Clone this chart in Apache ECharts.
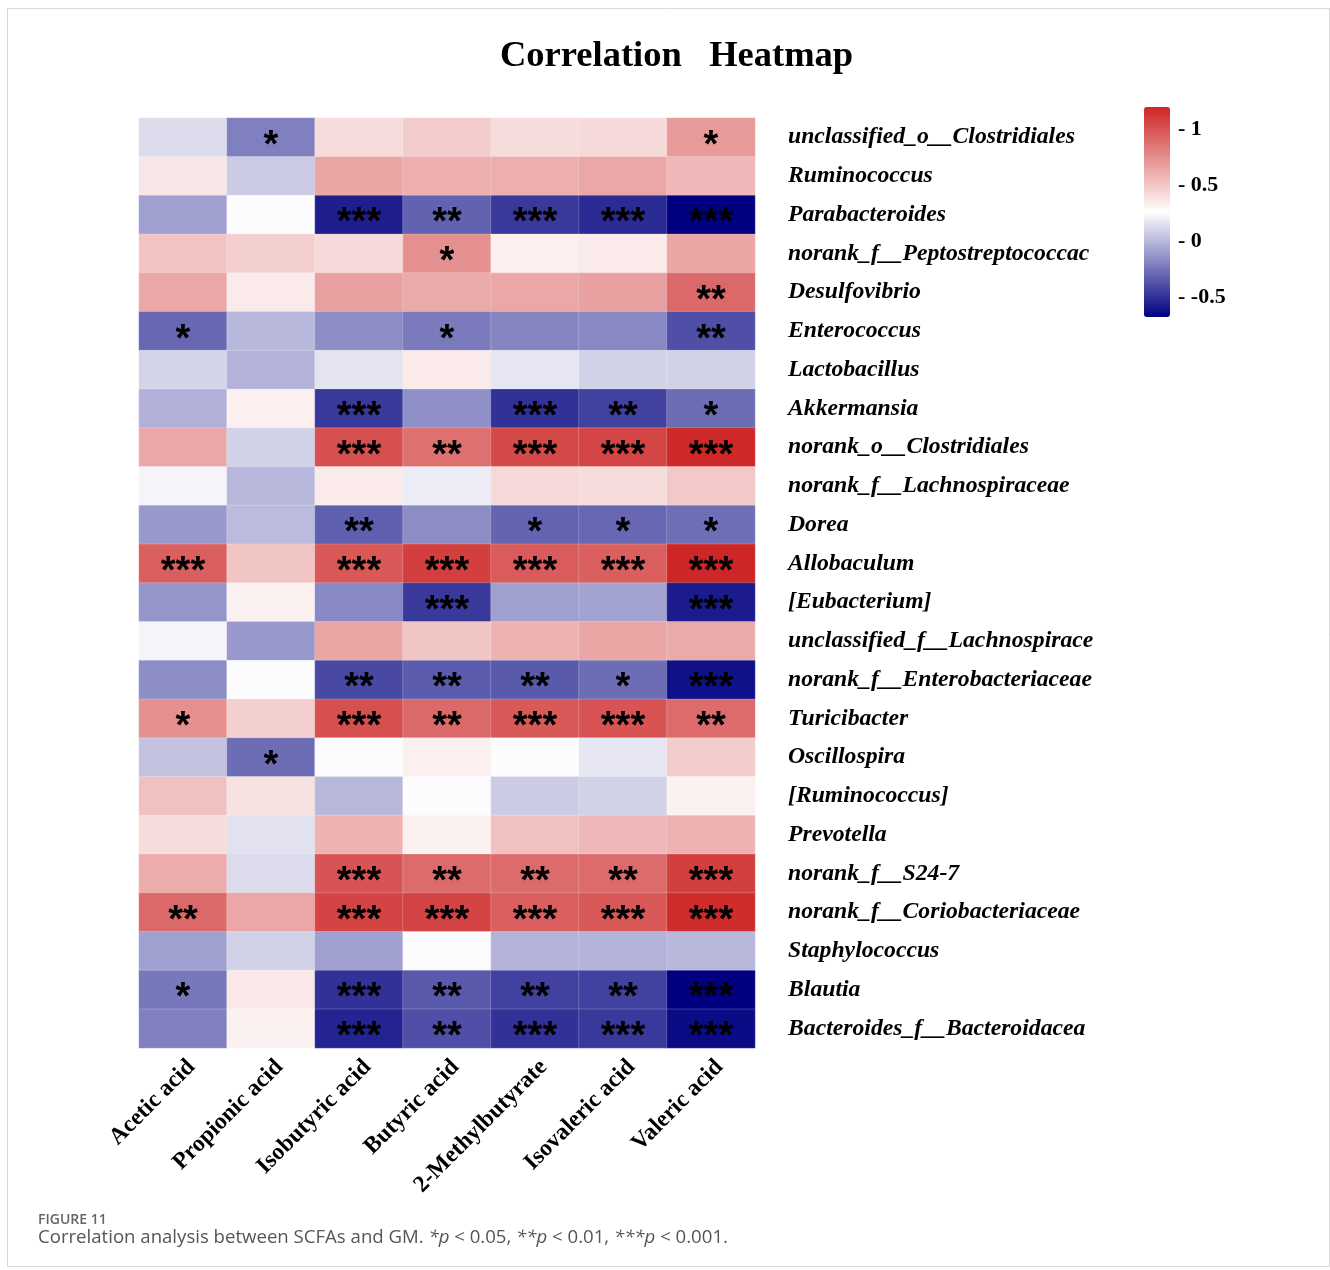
<!DOCTYPE html>
<html>
<head>
<meta charset="utf-8">
<title>Correlation Heatmap</title>
<script src="https://cdn.jsdelivr.net/npm/echarts@6/dist/echarts.min.js"></script>
<style>
  html, body { margin: 0; padding: 0; background: #fff; }
  #chart { width: 1330px; height: 1270px; }
</style>
</head>
<body>
<div id="chart"></div>
<script>
// Short-chain fatty acids (columns)
const acids = ['Acetic acid', 'Propionic acid', 'Isobutyric acid', 'Butyric acid',
  '2-Methylbutyrate', 'Isovaleric acid', 'Valeric acid'];

// Gut microbiota genera (rows, top to bottom)
const taxa = [
  'unclassified_o__Clostridiales', 'Ruminococcus', 'Parabacteroides',
  'norank_f__Peptostreptococcac', 'Desulfovibrio', 'Enterococcus', 'Lactobacillus',
  'Akkermansia', 'norank_o__Clostridiales', 'norank_f__Lachnospiraceae', 'Dorea',
  'Allobaculum', '[Eubacterium]', 'unclassified_f__Lachnospirace',
  'norank_f__Enterobacteriaceae', 'Turicibacter', 'Oscillospira', '[Ruminococcus]',
  'Prevotella', 'norank_f__S24-7', 'norank_f__Coriobacteriaceae', 'Staphylococcus',
  'Blautia', 'Bacteroides_f__Bacteroidacea'
];

// Correlation coefficients, one row per genus, one column per acid
const corr = [
  [ 0.13, -0.21,  0.41,  0.48,  0.41,  0.42,  0.70],
  [ 0.37,  0.07,  0.65,  0.61,  0.61,  0.64,  0.57],
  [-0.09,  0.25, -0.57, -0.32, -0.47, -0.52, -0.68],
  [ 0.52,  0.47,  0.42,  0.74,  0.33,  0.35,  0.65],
  [ 0.64,  0.35,  0.67,  0.63,  0.64,  0.67,  0.91],
  [-0.30,  0.00, -0.16, -0.23, -0.19, -0.18, -0.39],
  [ 0.10, -0.02,  0.16,  0.35,  0.17,  0.09,  0.09],
  [-0.03,  0.33, -0.47, -0.15, -0.50, -0.44, -0.28],
  [ 0.64,  0.09,  1.02,  0.88,  1.05,  1.06,  1.19],
  [ 0.22,  0.00,  0.35,  0.19,  0.43,  0.41,  0.50],
  [-0.12,  0.01, -0.33, -0.16, -0.31, -0.30, -0.27],
  [ 0.95,  0.51,  0.98,  1.09,  0.97,  0.95,  1.20],
  [-0.13,  0.32, -0.18, -0.47, -0.09, -0.08, -0.58],
  [ 0.22, -0.12,  0.65,  0.51,  0.59,  0.65,  0.63],
  [-0.16,  0.25, -0.41, -0.34, -0.35, -0.28, -0.62],
  [ 0.74,  0.47,  1.02,  0.91,  0.98,  1.00,  0.90],
  [ 0.04, -0.28,  0.25,  0.33,  0.25,  0.17,  0.48],
  [ 0.53,  0.39,  0.00,  0.25,  0.07,  0.09,  0.32],
  [ 0.41,  0.15,  0.59,  0.32,  0.53,  0.57,  0.60],
  [ 0.62,  0.13,  1.00,  0.90,  0.90,  0.90,  1.09],
  [ 0.91,  0.64,  1.07,  1.07,  0.95,  0.98,  1.17],
  [-0.09,  0.09, -0.09,  0.25, -0.02, -0.02,  0.00],
  [-0.24,  0.36, -0.50, -0.35, -0.44, -0.44, -0.68],
  [-0.21,  0.32, -0.55, -0.39, -0.50, -0.47, -0.64]
];

// Significance marks (*p < 0.05, **p < 0.01, ***p < 0.001)
const sig = [
  ['',    '*', '',    '',    '',    '',    '*'  ],
  ['',    '',  '',    '',    '',    '',    ''   ],
  ['',    '',  '***', '**',  '***', '***', '***'],
  ['',    '',  '',    '*',   '',    '',    ''   ],
  ['',    '',  '',    '',    '',    '',    '**' ],
  ['*',   '',  '',    '*',   '',    '',    '**' ],
  ['',    '',  '',    '',    '',    '',    ''   ],
  ['',    '',  '***', '',    '***', '**',  '*'  ],
  ['',    '',  '***', '**',  '***', '***', '***'],
  ['',    '',  '',    '',    '',    '',    ''   ],
  ['',    '',  '**',  '',    '*',   '*',   '*'  ],
  ['***', '',  '***', '***', '***', '***', '***'],
  ['',    '',  '',    '***', '',    '',    '***'],
  ['',    '',  '',    '',    '',    '',    ''   ],
  ['',    '',  '**',  '**',  '**',  '*',   '***'],
  ['*',   '',  '***', '**',  '***', '***', '**' ],
  ['',    '*', '',    '',    '',    '',    ''   ],
  ['',    '',  '',    '',    '',    '',    ''   ],
  ['',    '',  '',    '',    '',    '',    ''   ],
  ['',    '',  '***', '**',  '**',  '**',  '***'],
  ['**',  '',  '***', '***', '***', '***', '***'],
  ['',    '',  '',    '',    '',    '',    ''   ],
  ['*',   '',  '***', '**',  '**',  '**',  '***'],
  ['',    '',  '***', '**',  '***', '***', '***']
];

// Colour scale range and legend ticks
const colorRange = [-0.68, 1.2];
const legendTicks = [-0.5, 0, 0.5, 1];
const palette = ['#000080', '#ffffff', '#CD2626'];

const cells = [];
corr.forEach((row, r) => row.forEach((v, c) => cells.push([c, r, v])));

const serif = "'Liberation Serif', 'Times New Roman', serif";
const sans = "'Open Sans', 'Noto Sans', sans-serif";

const chart = echarts.init(document.getElementById('chart'), null, { renderer: 'canvas' });

chart.setOption({
  backgroundColor: '#ffffff',
  animation: false,
  title: [
    {
      text: 'Correlation   Heatmap',
      left: 495, top: 33,
      textStyle: { fontFamily: serif, fontWeight: 'bold', fontSize: 36.5, color: '#000' }
    },
    {
      text: 'FIGURE 11',
      left: 38, top: 1213, padding: 0,
      textStyle: { fontFamily: sans, fontWeight: 600, fontSize: 14, color: '#666' }
    },
    {
      text: 'Correlation analysis between SCFAs and GM. {i|*p} < 0.05, {i|**p} < 0.01, {i|***p} < 0.001.',
      left: 38, top: 1228, padding: 0,
      textStyle: {
        fontFamily: sans, fontWeight: 'normal', fontSize: 18.6, color: '#555',
        rich: { i: { fontFamily: sans, fontStyle: 'italic', fontSize: 18.6, color: '#555' } }
      }
    }
  ],
  graphic: [
    {
      type: 'rect', silent: true, z: -10,
      shape: { x: 7.5, y: 8.5, width: 1322, height: 1258 },
      style: { fill: 'none', stroke: '#d9d9d9', lineWidth: 1 }
    }
  ],
  grid: [
    { left: 139, top: 118, width: 616, height: 930 },
    { left: 1169, top: 107, width: 1, height: 210 }
  ],
  xAxis: [
    {
      type: 'category', data: acids, gridIndex: 0,
      axisLine: { show: false }, axisTick: { show: false }, splitLine: { show: false },
      axisLabel: {
        rotate: 45, margin: 7, interval: 0, verticalAlign: 'top',
        fontFamily: serif, fontWeight: 'bold', fontSize: 23.5, color: '#000'
      }
    },
    { type: 'value', gridIndex: 1, show: false, min: 0, max: 1 }
  ],
  yAxis: [
    {
      type: 'category', data: taxa, gridIndex: 0, inverse: true, position: 'right',
      axisLine: { show: false }, axisTick: { show: false }, splitLine: { show: false },
      axisLabel: {
        margin: 33, interval: 0,
        fontFamily: serif, fontWeight: 'bold', fontStyle: 'italic', fontSize: 23.7, color: '#000'
      }
    },
    {
      type: 'value', gridIndex: 1, position: 'right',
      min: colorRange[0], max: colorRange[1],
      axisLine: { show: false }, axisTick: { show: false }, splitLine: { show: false },
      axisLabel: {
        customValues: legendTicks, margin: 8,
        formatter: v => '- ' + v,
        fontFamily: serif, fontWeight: 'bold', fontSize: 22, color: '#000'
      }
    }
  ],
  visualMap: {
    type: 'continuous', seriesIndex: 0,
    min: colorRange[0], max: colorRange[1],
    calculable: false, hoverLink: false,
    orient: 'vertical', left: 1144, top: 107, padding: 0,
    itemWidth: 26, itemHeight: 210,
    text: null,
    inRange: { color: palette }
  },
  series: [
    {
      type: 'heatmap', xAxisIndex: 0, yAxisIndex: 0,
      data: cells,
      itemStyle: { borderColor: 'rgba(255,255,255,0.35)', borderWidth: 0.6 },
      emphasis: { disabled: true },
      label: {
        show: true,
        formatter: p => sig[p.value[1]][p.value[0]],
        fontFamily: "'Liberation Sans', Arial, sans-serif", fontWeight: 'bold',
        fontSize: 38, color: '#000', offset: [0, 9]
      }
    },
    { type: 'scatter', xAxisIndex: 1, yAxisIndex: 1, data: [] }
  ]
});
</script>
</body>
</html>
